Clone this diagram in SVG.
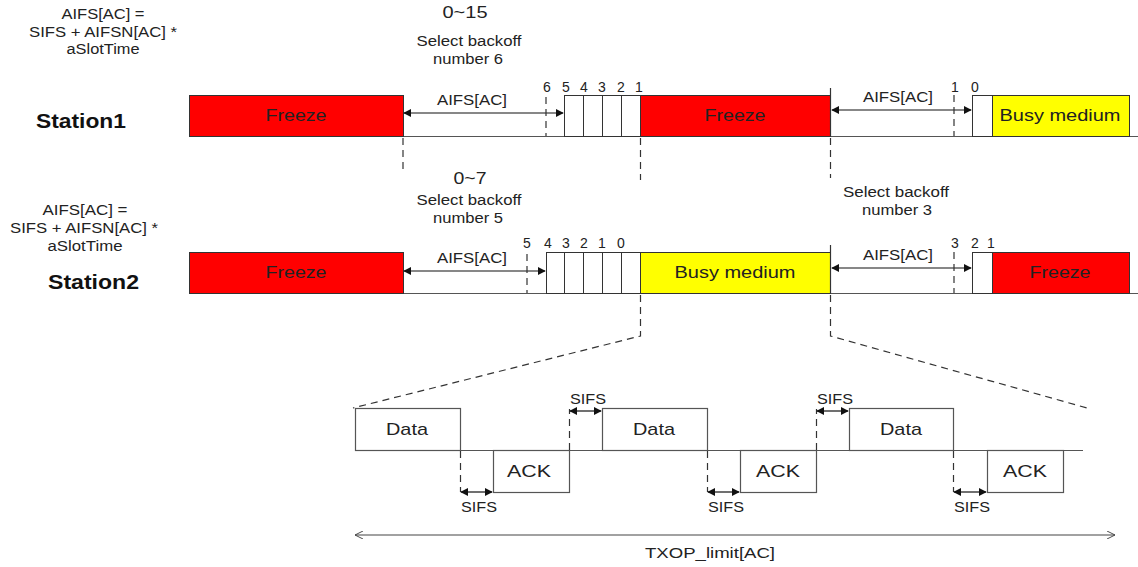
<svg xmlns="http://www.w3.org/2000/svg" width="1138" height="567" viewBox="0 0 1138 567">
  <defs>
    <marker id="ah" viewBox="0 0 10 10" refX="9" refY="5" markerWidth="8" markerHeight="8" markerUnits="userSpaceOnUse" orient="auto-start-reverse">
      <path d="M0,0 L10,5 L0,10 z" fill="#111"/>
    </marker>
    <marker id="open" viewBox="0 0 10 10" refX="10" refY="5" markerWidth="8" markerHeight="8" markerUnits="userSpaceOnUse" orient="auto-start-reverse">
      <path d="M0,0 L10,5 L0,10" fill="none" stroke="#444" stroke-width="1.2"/>
    </marker>
    <style>
      text { font-family: "Liberation Sans", Arial, sans-serif; fill: #222; }
      .sm { font-size: 14px; }
      .num { font-size: 14px; }
      .big { font-size: 16px; }
      .lbl { font-size: 17px; }
      .st { font-size: 21px; font-weight: bold; fill: #111; }
      .freeze { fill: #ff0000; stroke: #333; stroke-width: 1; }
      .busy { fill: #ffff00; stroke: #333; stroke-width: 1; }
      .slot { fill: #fff; stroke: #333; stroke-width: 1; }
      .base { stroke: #555; stroke-width: 1.2; fill: none; }
      .dash { stroke: #333; stroke-width: 1.2; stroke-dasharray: 7 5; fill: none; }
      .arr { stroke: #111; stroke-width: 1.2; fill: none; marker-start: url(#ah); marker-end: url(#ah); }
      .solid { stroke: #333; stroke-width: 1.2; fill: none; }
      .frame { fill: #fff; stroke: #555; stroke-width: 1.2; }
    </style>
  </defs>

  <!-- Formula labels and station names -->
  <g id="formula1" text-anchor="middle" lengthAdjust="spacingAndGlyphs">
    <text class="sm" x="103" y="19" textLength="83" lengthAdjust="spacingAndGlyphs">AIFS[AC] =</text>
    <text class="sm" x="103" y="37" textLength="148" lengthAdjust="spacingAndGlyphs">SIFS + AIFSN[AC] *</text>
    <text class="sm" x="103" y="54" textLength="73" lengthAdjust="spacingAndGlyphs">aSlotTime</text>
  </g>
  <g id="station1-label"><text class="st" x="36" y="128" textLength="90" lengthAdjust="spacingAndGlyphs">Station1</text></g>
  <g id="formula2" text-anchor="middle">
    <text class="sm" x="85" y="215" textLength="85" lengthAdjust="spacingAndGlyphs">AIFS[AC] =</text>
    <text class="sm" x="84" y="233" textLength="148" lengthAdjust="spacingAndGlyphs">SIFS + AIFSN[AC] *</text>
    <text class="sm" x="85" y="251" textLength="75" lengthAdjust="spacingAndGlyphs">aSlotTime</text>
  </g>
  <g id="station2-label"><text class="st" x="48" y="289" textLength="91" lengthAdjust="spacingAndGlyphs">Station2</text></g>

  <!-- Backoff selection notes -->
  <g id="note-s1" text-anchor="middle">
    <text class="big" x="465" y="18" textLength="45" lengthAdjust="spacingAndGlyphs">0~15</text>
    <text class="sm" x="469" y="46" textLength="105" lengthAdjust="spacingAndGlyphs">Select backoff</text>
    <text class="sm" x="468" y="64" textLength="70" lengthAdjust="spacingAndGlyphs">number 6</text>
  </g>
  <g id="note-s2" text-anchor="middle">
    <text class="big" x="470" y="184" textLength="33" lengthAdjust="spacingAndGlyphs">0~7</text>
    <text class="sm" x="469" y="205" textLength="105" lengthAdjust="spacingAndGlyphs">Select backoff</text>
    <text class="sm" x="468" y="223" textLength="70" lengthAdjust="spacingAndGlyphs">number 5</text>
  </g>
  <g id="note-s2b" text-anchor="middle">
    <text class="sm" x="896" y="197" textLength="106" lengthAdjust="spacingAndGlyphs">Select backoff</text>
    <text class="sm" x="897" y="215" textLength="70" lengthAdjust="spacingAndGlyphs">number 3</text>
  </g>

  <!-- Station1 timeline -->
  <g id="station1">
    <line class="base" x1="403" y1="136.5" x2="1138" y2="136.5"/>
    <g id="s1-freeze1">
      <rect class="freeze" x="189.5" y="95.5" width="214" height="41"/>
      <text class="lbl" x="296" y="121" text-anchor="middle" textLength="61" lengthAdjust="spacingAndGlyphs">Freeze</text>
    </g>
    <g id="s1-slots">
      <rect class="slot" x="564.5" y="95.5" width="19" height="41"/>
      <rect class="slot" x="583.5" y="95.5" width="19" height="41"/>
      <rect class="slot" x="602.5" y="95.5" width="19" height="41"/>
      <rect class="slot" x="621.5" y="95.5" width="19" height="41"/>
    </g>
    <g id="s1-freeze2">
      <rect class="freeze" x="640.5" y="95.5" width="190" height="41"/>
      <text class="lbl" x="735" y="121" text-anchor="middle" textLength="61" lengthAdjust="spacingAndGlyphs">Freeze</text>
    </g>
    <rect class="slot" x="972.5" y="95.5" width="20" height="41"/>
    <g id="s1-busy">
      <rect class="busy" x="992.5" y="95.5" width="137" height="41"/>
      <text class="lbl" x="1060" y="121" text-anchor="middle" textLength="121" lengthAdjust="spacingAndGlyphs">Busy medium</text>
    </g>
    <g class="num" text-anchor="middle">
      <text x="547" y="92">6</text>
      <text x="566" y="92">5</text>
      <text x="584" y="92">4</text>
      <text x="602" y="92">3</text>
      <text x="621" y="92">2</text>
      <text x="639" y="92">1</text>
      <text x="955" y="92">1</text>
      <text x="975" y="92">0</text>
    </g>
  </g>

  <!-- Station2 timeline -->
  <g id="station2">
    <line class="base" x1="403" y1="293.5" x2="1138" y2="293.5"/>
    <g id="s2-freeze1">
      <rect class="freeze" x="189.5" y="252.5" width="214" height="41"/>
      <text class="lbl" x="296" y="278" text-anchor="middle" textLength="61" lengthAdjust="spacingAndGlyphs">Freeze</text>
    </g>
    <g id="s2-slots">
      <rect class="slot" x="546.5" y="252.5" width="18" height="41"/>
      <rect class="slot" x="564.5" y="252.5" width="19" height="41"/>
      <rect class="slot" x="583.5" y="252.5" width="19" height="41"/>
      <rect class="slot" x="602.5" y="252.5" width="19" height="41"/>
      <rect class="slot" x="621.5" y="252.5" width="19" height="41"/>
    </g>
    <g id="s2-busy">
      <rect class="busy" x="640.5" y="252.5" width="190" height="41"/>
      <text class="lbl" x="735" y="278" text-anchor="middle" textLength="121" lengthAdjust="spacingAndGlyphs">Busy medium</text>
    </g>
    <rect class="slot" x="972.5" y="252.5" width="20" height="41"/>
    <g id="s2-freeze2">
      <rect class="freeze" x="992.5" y="252.5" width="137" height="41"/>
      <text class="lbl" x="1060" y="278" text-anchor="middle" textLength="61" lengthAdjust="spacingAndGlyphs">Freeze</text>
    </g>
    <g class="num" text-anchor="middle">
      <text x="527" y="248">5</text>
      <text x="548" y="248">4</text>
      <text x="566" y="248">3</text>
      <text x="584" y="248">2</text>
      <text x="602" y="248">1</text>
      <text x="621" y="248">0</text>
      <text x="955" y="248">3</text>
      <text x="975" y="248">2</text>
      <text x="991" y="248">1</text>
    </g>
  </g>

  <!-- TXOP burst detail -->
  <g id="txop">
    <line class="base" x1="355" y1="450.5" x2="1083" y2="450.5"/>
    <g id="data1"><rect class="frame" x="355.5" y="408.5" width="105" height="42"/><text class="lbl" x="407" y="435" text-anchor="middle" textLength="42" lengthAdjust="spacingAndGlyphs">Data</text></g>
    <g id="ack1"><rect class="frame" x="493.5" y="450.5" width="76" height="42"/><text class="lbl" x="529" y="477" text-anchor="middle" textLength="44" lengthAdjust="spacingAndGlyphs">ACK</text></g>
    <g id="data2"><rect class="frame" x="602.5" y="408.5" width="105" height="42"/><text class="lbl" x="654" y="435" text-anchor="middle" textLength="42" lengthAdjust="spacingAndGlyphs">Data</text></g>
    <g id="ack2"><rect class="frame" x="740.5" y="450.5" width="76" height="42"/><text class="lbl" x="778" y="477" text-anchor="middle" textLength="44" lengthAdjust="spacingAndGlyphs">ACK</text></g>
    <g id="data3"><rect class="frame" x="849.5" y="408.5" width="104" height="42"/><text class="lbl" x="901" y="435" text-anchor="middle" textLength="42" lengthAdjust="spacingAndGlyphs">Data</text></g>
    <g id="ack3"><rect class="frame" x="987.5" y="450.5" width="76" height="42"/><text class="lbl" x="1025" y="477" text-anchor="middle" textLength="44" lengthAdjust="spacingAndGlyphs">ACK</text></g>
    <g class="sm" text-anchor="middle">
      <text x="479" y="512" textLength="36" lengthAdjust="spacingAndGlyphs">SIFS</text>
      <text x="588" y="404" textLength="36" lengthAdjust="spacingAndGlyphs">SIFS</text>
      <text x="726" y="512" textLength="36" lengthAdjust="spacingAndGlyphs">SIFS</text>
      <text x="835" y="404" textLength="36" lengthAdjust="spacingAndGlyphs">SIFS</text>
      <text x="972" y="512" textLength="36" lengthAdjust="spacingAndGlyphs">SIFS</text>
    </g>
    <text class="sm" x="710" y="558" text-anchor="middle" textLength="130" lengthAdjust="spacingAndGlyphs">TXOP_limit[AC]</text>
  </g>

  <!-- Connectors: AIFS/SIFS spans, guide lines and zoom lines -->
  <g id="connectors">
    <line class="arr" x1="404" y1="113" x2="563" y2="113"/>
    <text class="sm" x="472" y="105" text-anchor="middle" textLength="70" lengthAdjust="spacingAndGlyphs">AIFS[AC]</text>
    <line class="arr" x1="832" y1="110" x2="971" y2="110"/>
    <text class="sm" x="898" y="102" text-anchor="middle" textLength="70" lengthAdjust="spacingAndGlyphs">AIFS[AC]</text>
    <line class="arr" x1="404" y1="271" x2="545" y2="271"/>
    <text class="sm" x="472" y="263" text-anchor="middle" textLength="70" lengthAdjust="spacingAndGlyphs">AIFS[AC]</text>
    <line class="arr" x1="832" y1="268" x2="971" y2="268"/>
    <text class="sm" x="898" y="260" text-anchor="middle" textLength="70" lengthAdjust="spacingAndGlyphs">AIFS[AC]</text>

    <line class="dash" x1="546" y1="97" x2="546" y2="136"/>
    <line class="dash" x1="954" y1="95" x2="954" y2="136"/>
    <line class="dash" x1="527" y1="254" x2="527" y2="293"/>
    <line class="dash" x1="954" y1="252" x2="954" y2="293"/>

    <line class="dash" x1="403" y1="138" x2="403" y2="173"/>
    <line class="dash" x1="640.5" y1="138" x2="640.5" y2="180"/>
    <line class="solid" x1="830.5" y1="88" x2="830.5" y2="137"/>
    <line class="dash" x1="830.5" y1="138" x2="830.5" y2="178"/>
    <line class="solid" x1="830.5" y1="245" x2="830.5" y2="294"/>

    <path class="dash" d="M640.5,295 L640.5,336 L353,408"/>
    <path class="dash" d="M830.5,295 L830.5,336 L1087,408"/>

    <line class="dash" x1="460.5" y1="451" x2="460.5" y2="492"/>
    <line class="dash" x1="569.5" y1="450" x2="569.5" y2="409"/>
    <line class="dash" x1="707.5" y1="451" x2="707.5" y2="492"/>
    <line class="dash" x1="816.5" y1="450" x2="816.5" y2="409"/>
    <line class="dash" x1="953.5" y1="451" x2="953.5" y2="492"/>

    <line class="arr" x1="461" y1="492" x2="492" y2="492"/>
    <line class="arr" x1="570" y1="411" x2="601" y2="411"/>
    <line class="arr" x1="708" y1="492" x2="739" y2="492"/>
    <line class="arr" x1="817" y1="411" x2="848" y2="411"/>
    <line class="arr" x1="954" y1="492" x2="986" y2="492"/>

    <line x1="355" y1="535" x2="1115" y2="535" stroke="#444" stroke-width="1.2" marker-start="url(#open)" marker-end="url(#open)"/>
  </g>
</svg>
